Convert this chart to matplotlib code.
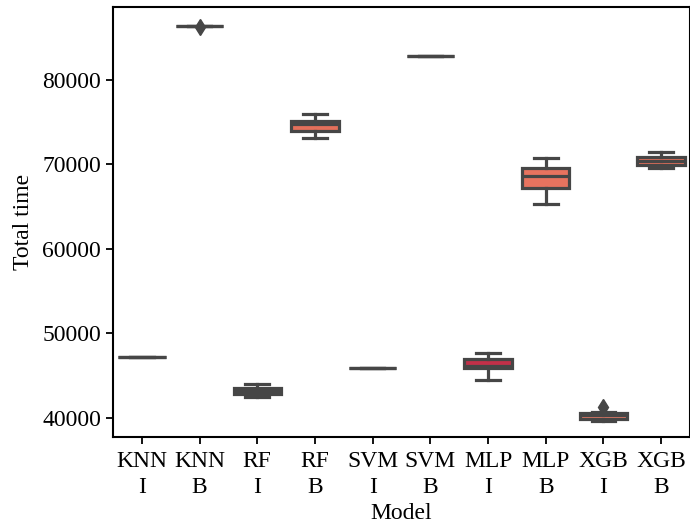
import matplotlib
matplotlib.use("Agg")
import matplotlib.pyplot as plt

plt.rcParams['font.family'] = ['Liberation Serif', 'DejaVu Serif']

labels = ["KNN\nI", "KNN\nB", "RF\nI", "RF\nB", "SVM\nI", "SVM\nB", "MLP\nI", "MLP\nB", "XGB\nI", "XGB\nB"]
whislo = [47180, 86390, 42500, 73180, 45880, 82840, 44480, 65290, 39700, 69550]
q1     = [47180, 86390, 42840, 73960, 45880, 82840, 45880, 67250, 39860, 69990]
med    = [47180, 86390, 43200, 74830, 45880, 82840, 46190, 68600, 40300, 70410]
q3     = [47180, 86390, 43590, 75180, 45880, 82840, 46970, 69620, 40640, 70920]
whishi = [47180, 86390, 43980, 75940, 45880, 82840, 47660, 70730, 40680, 71440]
fliers = [[], [86320], [], [], [], [], [], [], [41300], []]
colors = ["#e07a66", "#e07a66", "#e07a66", "#e4705b", "#e07a66", "#e07a66",
          "#c23049", "#e8735f", "#e07a66", "#e4705b"]

stats = []
for i in range(len(labels)):
    stats.append(dict(whislo=whislo[i], q1=q1[i], med=med[i], q3=q3[i],
                      whishi=whishi[i], fliers=fliers[i], label=labels[i]))

fig = plt.figure(figsize=(6.9, 5.26), dpi=100)
ax = fig.add_axes([0.1638, 0.1692, 0.8362, 0.8175])

gray = "#464646"
lw = 2.3
bp = ax.bxp(stats, positions=range(len(labels)), widths=0.82, patch_artist=True,
            boxprops=dict(edgecolor=gray, linewidth=lw),
            whiskerprops=dict(color=gray, linewidth=lw),
            capprops=dict(color=gray, linewidth=lw),
            medianprops=dict(color=gray, linewidth=lw),
            flierprops=dict(marker='d', markerfacecolor=gray, markeredgecolor=gray,
                            markersize=8),
            capwidths=0.41)
for patch, c in zip(bp['boxes'], colors):
    patch.set_facecolor(c)

ax.set_xlim(-0.5, 9.5)
ax.set_ylim(37750, 88640)
ax.set_yticks([40000, 50000, 60000, 70000, 80000])
ax.set_xticks(range(len(labels)))
ax.set_xticklabels(labels, linespacing=1.3)
ax.tick_params(axis='both', labelsize=17, direction='out', length=5, width=1.3, color='black')
ax.tick_params(axis='x', pad=5)
for s in ax.spines.values():
    s.set_linewidth(1.5)
    s.set_color('black')
ax.set_xlabel("Model", fontsize=17, labelpad=4)
ax.set_ylabel("Total time", fontsize=17, labelpad=6)

fig.savefig("out.png", dpi=100)
